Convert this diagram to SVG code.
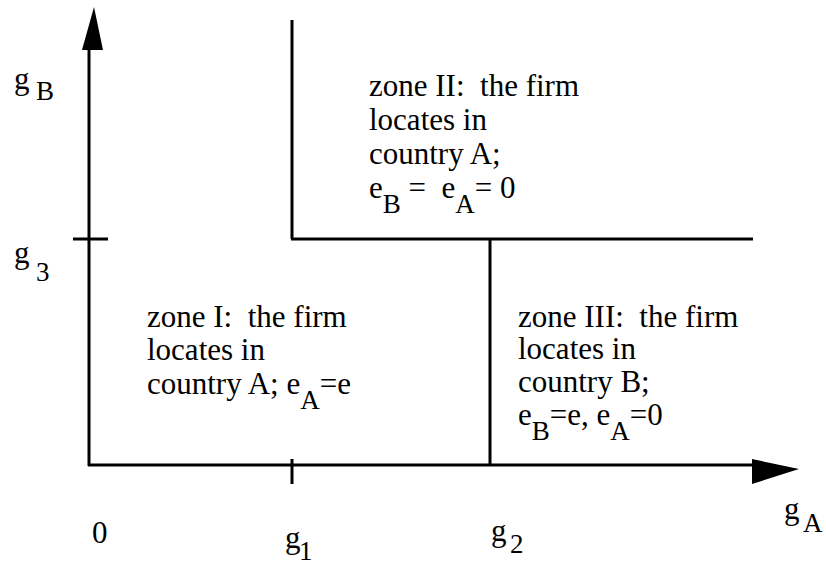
<svg xmlns="http://www.w3.org/2000/svg" width="826" height="570" viewBox="0 0 826 570">
<style>
text{font-family:"Liberation Serif","Times New Roman",serif;font-size:31px;fill:#000;white-space:pre}
.s{font-size:27px}
.ln{stroke:#000;stroke-width:3;fill:none}
</style>
<rect width="826" height="570" fill="#fff"/>
<g id="connectors">
<line class="ln" x1="89" y1="466" x2="89" y2="48"/>
<polygon points="94,7 82,50 103,50" fill="#000"/>
<line class="ln" x1="88" y1="465" x2="754" y2="465"/>
<polygon points="799,469 752,459 752,484" fill="#000"/>
<line class="ln" x1="73" y1="239" x2="108" y2="239"/>
<line class="ln" x1="292" y1="20" x2="292" y2="239"/>
<line class="ln" x1="291" y1="239" x2="753" y2="239"/>
<line class="ln" x1="490" y1="239" x2="490" y2="465"/>
<line class="ln" x1="292" y1="459" x2="292" y2="484" stroke-width="2"/>
</g>
<g id="axis-labels">
<text x="14" y="89">g</text><text class="s" x="36" y="100">B</text>
<text x="14" y="263">g</text><text class="s" x="36" y="281">3</text>
<text x="92" y="543">0</text>
<text x="285" y="548">g</text><text class="s" x="299" y="560">1</text>
<text x="491" y="541">g</text><text class="s" x="510" y="553">2</text>
<text x="784" y="519">g</text><text class="s" x="803" y="532">A</text>
</g>
<g id="zone2">
<text x="369" y="96" xml:space="preserve">zone II:  the firm</text>
<text x="369" y="130">locates in</text>
<text x="369" y="164">country A;</text>
<text x="369" y="198" xml:space="preserve">e<tspan class="s" dy="15">B</tspan><tspan dy="-15"> =  e</tspan><tspan class="s" dy="15">A</tspan><tspan dy="-15">= 0</tspan></text>
</g>
<g id="zone1">
<text x="147" y="327" xml:space="preserve">zone I:  the firm</text>
<text x="147" y="360">locates in</text>
<text x="147" y="394" xml:space="preserve">country A; e<tspan class="s" dy="15">A</tspan><tspan dy="-15">=e</tspan></text>
</g>
<g id="zone3">
<text x="518" y="327" xml:space="preserve">zone III:  the firm</text>
<text x="518" y="359">locates in</text>
<text x="518" y="392">country B;</text>
<text x="518" y="425">e<tspan class="s" dy="15">B</tspan><tspan dy="-15">=e, e</tspan><tspan class="s" dy="15">A</tspan><tspan dy="-15">=0</tspan></text>
</g>
</svg>
